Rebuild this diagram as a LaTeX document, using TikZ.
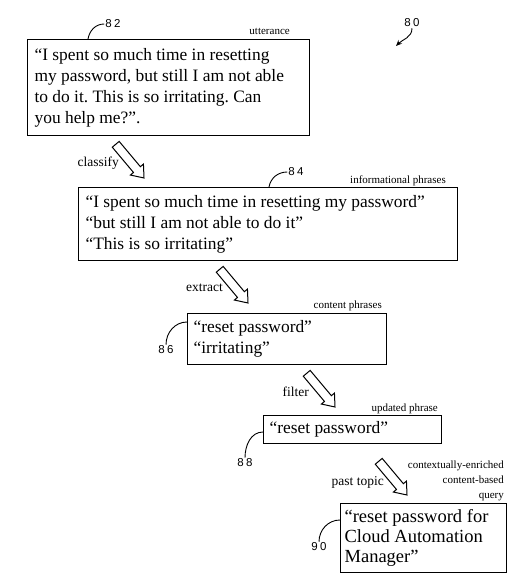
\documentclass[tikz,border=0pt]{standalone}
\usepackage{fontspec}
\setmainfont{Liberation Serif}
\newfontfamily\numfont[LetterSpace=20]{Liberation Sans}
\usetikzlibrary{arrows.meta}
\frenchspacing

\tikzset{
  phrasebox/.style={draw, line width=1.2pt, anchor=north west, align=flush left,
    inner xsep=7pt, inner ysep=0pt, font=\fontsize{17.4}{21}\selectfont},
  tag/.style={font=\fontsize{11}{13}\selectfont, inner sep=0pt},
  verb/.style={font=\fontsize{13.5}{15}\selectfont, inner sep=0pt},
  refnum/.style={font=\numfont\fontsize{11.5}{13}\selectfont, inner sep=1pt},
  leader/.style={line width=0.9pt},
  pics/bigarrow/.style={code={
    \draw[line width=1pt, fill=white] (0,0) -- (-11,8.5) -- (-11,4.5) -- (-44,4.5)
      -- (-44,-4.5) -- (-11,-4.5) -- (-11,-8.5) -- cycle;}}
}

\begin{document}
\begin{tikzpicture}[x=1pt, y=-1pt]
    \useasboundingbox (0,0) rectangle (515,583);

    % Draw boxes
    \node[phrasebox, minimum width=282pt, minimum height=96pt, text width=268pt] (utter) at (27,39)
        {“I spent so much time in resetting\\my password, but still I am not able\\to do it. This is so irritating. Can\\you help me?”.};
    \node[phrasebox, minimum width=379pt, minimum height=73pt, text width=365pt] (inform) at (78,187)
        {“I spent so much time in resetting my password”\\“but still I am not able to do it”\\“This is so irritating”};
    \node[phrasebox, minimum width=199pt, minimum height=51pt, text width=187pt, inner xsep=6pt] (content) at (187,313)
        {“reset password”\\“irritating”};
    \node[phrasebox, minimum width=178pt, minimum height=28pt, text width=166pt, inner xsep=6pt] (updated) at (263,415)
        {“reset password”};
    \node[phrasebox, minimum width=162pt, minimum height=69pt, text width=158pt, inner xsep=4pt,
          font=\fontsize{18.5}{20}\selectfont] (query) at (340,503)
        {“reset password for\\Cloud Automation\\Manager”};

    % Box labels
    \node[tag, anchor=base east] (lutter) at (290,35) {utterance};
    \node[tag, anchor=base east] (linform) at (446,183) {informational phrases};
    \node[tag, anchor=base east] (lcontent) at (382,308) {content phrases};
    \node[tag, anchor=base east] (lupdated) at (438,411) {updated phrase};
    \node[tag, anchor=south east, align=right, font=\fontsize{11}{15}\selectfont] (lquery) at (504,501)
        {contextually-enriched\\content-based\\query};

    % Draw arrows
    \pic[rotate=-50] at (144,178) {bigarrow};
    \pic[rotate=-50] at (248,303) {bigarrow};
    \pic[rotate=-50] at (335,407) {bigarrow};
    \pic[rotate=-50] at (407,495) {bigarrow};
    \node[verb, anchor=base east] (vclassify) at (119,166) {classify};
    \node[verb, anchor=base east] (vextract) at (223,291) {extract};
    \node[verb, anchor=base east] (vfilter) at (309,396) {filter};
    \node[verb, anchor=base east] (vtopic) at (384,485) {past topic};

    % Reference numbers
    \node[refnum] (n80) at (412,23) {80};
    \node[refnum] (n82) at (113,24) {82};
    \node[refnum] (n84) at (296,172) {84};
    \node[refnum] (n86) at (166,350) {86};
    \node[refnum] (n88) at (245,463) {88};
    \node[refnum] (n90) at (319,547) {90};
    \coordinate (p80) at (396,46);
    \coordinate (c82) at (88,39);
    \coordinate (c84) at (269,187);
    \coordinate (c86) at (187,322);
    \coordinate (c88) at (263,432);
    \coordinate (c90) at (340,520);

    % Draw leaders
    \draw[leader, -{Stealth[length=6pt,width=5pt]}] (n80.south) to[out=-90,in=45] (p80);
    \draw[leader] (c82) to[out=80,in=180] (n82.west);
    \draw[leader] (c84) to[out=80,in=180] (n84.west);
    \draw[leader] (c86) to[out=180,in=90] (n86.north);
    \draw[leader] (c88) to[out=180,in=90] (n88.north);
    \draw[leader] (c90) to[out=180,in=90] (n90.north);
\end{tikzpicture}
\end{document}
